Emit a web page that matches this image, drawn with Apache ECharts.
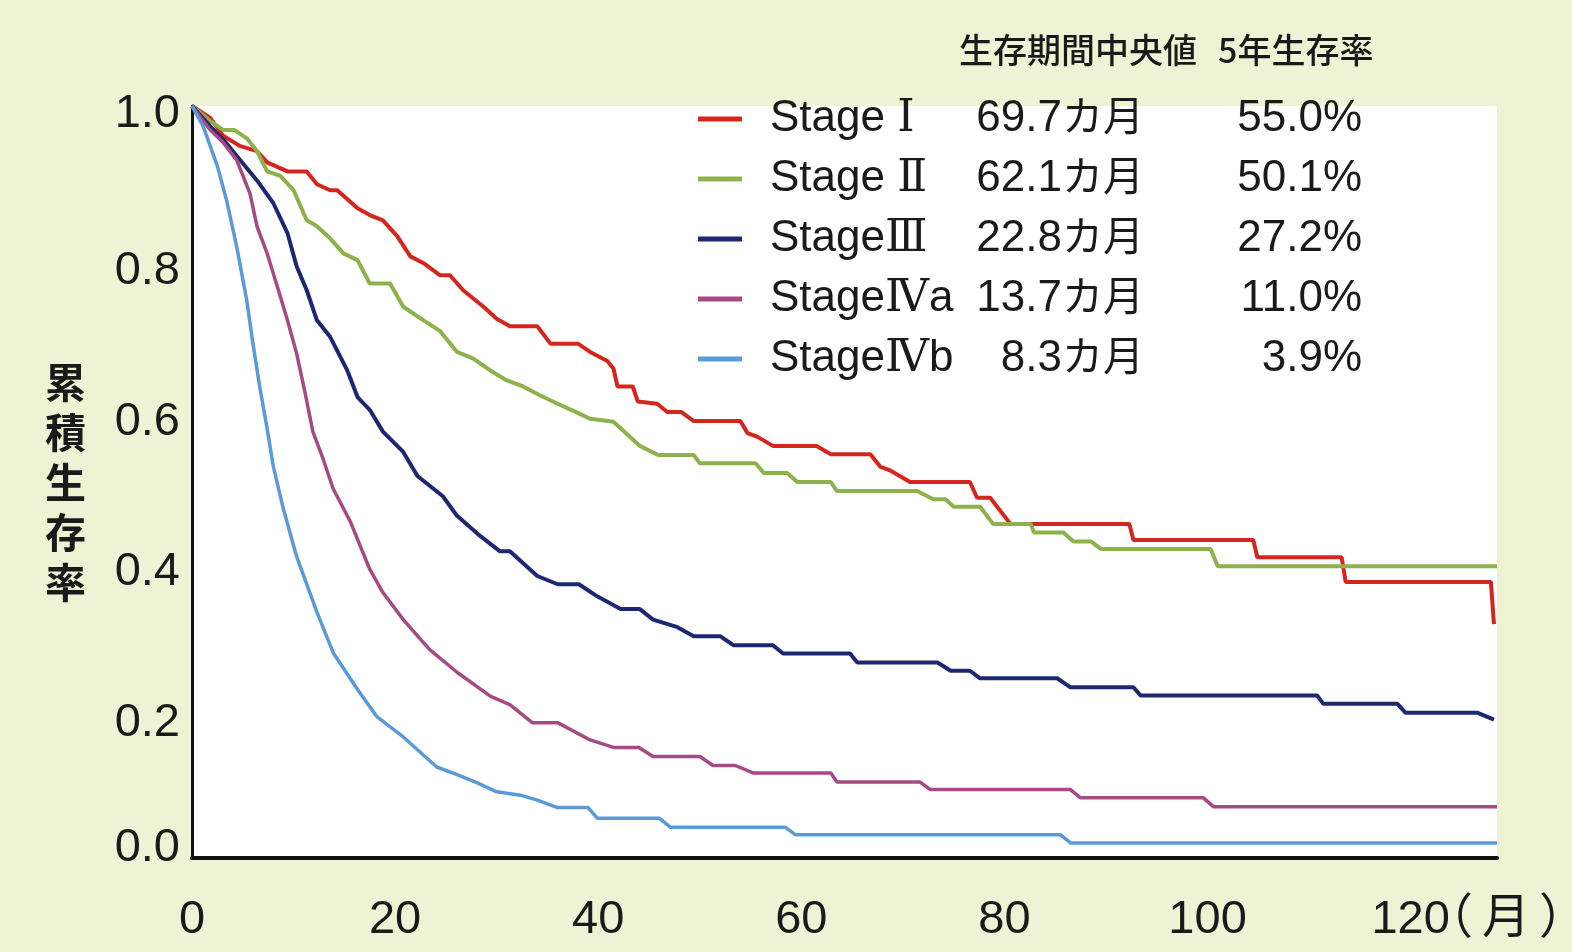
<!DOCTYPE html>
<html>
<head>
<meta charset="utf-8">
<style>
  html, body { margin: 0; padding: 0; background: #edf3d4; }
  #chart { width: 1572px; height: 952px; }
</style>
<script src="https://cdn.jsdelivr.net/npm/echarts/dist/echarts.min.js"></script>
</head>
<body>
<div id="chart"></div>
<script>
// ---- Data ----
const stageNames = ['Stage Ⅰ', 'Stage Ⅱ', 'StageⅢ', 'StageⅣa', 'StageⅣb'];
const medianValues = ['69.7', '62.1', '22.8', '13.7', '8.3'];
const medianUnit = 'カ月';
const fiveYearLabels = ['55.0%', '50.1%', '27.2%', '11.0%', '3.9%'];
const headerMedian = '生存期間中央値';
const headerFiveYear = '5年生存率';
const yAxisTitle = '累積生存率';
const xAxisUnit = '（月）';

// [month, cumulative survival]
const stageI = [[0,1],[1.8,0.984],[3.1,0.96],[4.7,0.947],[6.4,0.94],[7.4,0.925],[9.4,0.913],[11.3,0.913],[12.3,0.896],[13.6,0.888],[14.3,0.888],[16.3,0.864],[17.5,0.855],[18.8,0.848],[20.2,0.827],[21.5,0.8],[22.8,0.791],[24.4,0.775],[25.4,0.775],[26.7,0.755],[28.7,0.733],[30,0.717],[31.3,0.707],[34,0.707],[35.3,0.684],[38,0.684],[39.2,0.673],[40.9,0.661],[41.5,0.651],[41.9,0.627],[43.4,0.627],[43.9,0.607],[45.8,0.604],[46.8,0.593],[48.2,0.593],[49.4,0.581],[54,0.581],[54.7,0.565],[55.7,0.56],[57.2,0.548],[61.5,0.548],[62.9,0.537],[66.8,0.537],[67.8,0.52],[68.8,0.515],[70.7,0.5],[76.6,0.5],[77.3,0.479],[78.6,0.479],[80.6,0.444],[92.3,0.444],[92.7,0.423],[104.5,0.423],[104.9,0.4],[113.2,0.4],[113.6,0.367],[127.9,0.367],[128.2,0.311]];
const stageII = [[0,1],[1.8,0.98],[3.1,0.968],[4.2,0.968],[5.4,0.957],[6.4,0.94],[7.4,0.913],[8.7,0.907],[10,0.888],[11.3,0.848],[12.3,0.84],[13.6,0.824],[14.9,0.804],[16.3,0.795],[17.5,0.764],[19.5,0.764],[20.8,0.733],[22.8,0.715],[24.4,0.701],[26.1,0.673],[27.7,0.664],[29.4,0.648],[31,0.635],[32.6,0.627],[34.3,0.615],[36,0.604],[37.5,0.595],[39.2,0.584],[41.5,0.58],[44.1,0.548],[45.9,0.536],[49.4,0.536],[50,0.525],[55.5,0.525],[56.3,0.512],[58.6,0.512],[59.6,0.5],[62.9,0.5],[63.5,0.488],[71.4,0.488],[73,0.477],[74.2,0.477],[75,0.467],[77.6,0.467],[78.9,0.444],[82.6,0.444],[82.9,0.433],[85.8,0.433],[86.8,0.421],[88.5,0.421],[89.5,0.411],[100.3,0.411],[101,0.388],[128.5,0.388]];
const stageIII = [[0,1],[1.8,0.973],[3.1,0.955],[5,0.924],[6.4,0.901],[8,0.871],[9.4,0.831],[10.3,0.787],[11.3,0.755],[12.3,0.715],[13.6,0.693],[15.3,0.648],[16.3,0.613],[17.5,0.596],[18.8,0.567],[20.8,0.54],[22.2,0.508],[24.7,0.481],[26.1,0.455],[28.4,0.428],[30.3,0.408],[31.3,0.408],[34,0.375],[36,0.364],[38.1,0.364],[39.9,0.348],[42.2,0.331],[44.1,0.331],[45.4,0.317],[47.8,0.307],[49.4,0.295],[52,0.295],[53.3,0.283],[57.2,0.283],[58.2,0.272],[64.8,0.272],[65.5,0.26],[73.4,0.26],[74.7,0.249],[76.6,0.249],[77.6,0.239],[85.2,0.239],[86.5,0.227],[92.7,0.227],[93.4,0.216],[110.8,0.216],[111.4,0.205],[118.7,0.205],[119.5,0.193],[126.6,0.193],[128.2,0.184]];
const stageIVa = [[0,1],[1.8,0.968],[3.1,0.951],[4.4,0.928],[5.7,0.884],[6.4,0.84],[7.4,0.804],[8.4,0.76],[9.4,0.715],[10.3,0.671],[11.1,0.621],[11.9,0.567],[12.9,0.531],[13.9,0.491],[15.6,0.447],[17.5,0.384],[18.8,0.353],[20.8,0.317],[23.4,0.277],[26.1,0.247],[29.4,0.215],[31.3,0.204],[33.5,0.18],[36,0.18],[39.2,0.157],[41.5,0.147],[44,0.147],[45.4,0.135],[50,0.135],[51.3,0.123],[53.5,0.123],[55.3,0.113],[62.9,0.113],[63.5,0.101],[71.7,0.101],[72.7,0.091],[86.5,0.091],[87.5,0.08],[99.6,0.08],[100.6,0.068],[128.5,0.068]];
const stageIVb = [[0,1],[1.1,0.973],[2.5,0.92],[3.4,0.875],[4.4,0.813],[5.4,0.741],[6,0.684],[6.7,0.624],[7.4,0.571],[8,0.521],[9,0.464],[10.3,0.401],[12.3,0.327],[13.9,0.273],[16.3,0.224],[18.2,0.188],[20.8,0.161],[24.1,0.121],[26.1,0.111],[28.1,0.1],[30,0.088],[32.5,0.083],[34,0.077],[36,0.067],[39,0.067],[39.9,0.053],[46,0.053],[47.1,0.041],[58.4,0.041],[59.4,0.031],[85.5,0.031],[86.5,0.02],[128.5,0.02]];

const seriesData = [stageI, stageII, stageIII, stageIVa, stageIVb];
const seriesColors = ['#d5261d', '#8db14b', '#1e2872', '#a54a82', '#5a9ad8'];
const seriesWidths = [4, 4, 4, 3.5, 3.5];

// ---- Chart ----
const SANS = '"Liberation Sans", Arial, "Noto Sans CJK JP", sans-serif';
const NAMEFONT = '"Liberation Sans", "DejaVu Serif", "Noto Sans CJK JP", sans-serif';
const CJK = '"Noto Sans CJK JP", "Noto Sans CJK SC", sans-serif';
const TXT = '#1a1a1a';

const chart = echarts.init(document.getElementById('chart'), null, { renderer: 'canvas' });

// small vertical nudges of the y tick labels, as printed in the reference
function yLabel(v) {
  const t = v.toFixed(1);
  if (v === 0) return '{n|' + t + '}\n{e20| }';
  if (v >= 0.999) return '{e16| }\n{n|' + t + '}';
  return '{e30| }\n{n|' + t + '}';
}

const option = {
  backgroundColor: '#edf3d4',
  animation: false,
  title: {
    text: '{a|' + headerMedian + '}{b|' + headerFiveYear + '}',
    left: 959,
    top: 30,
    padding: 0,
    textStyle: {
      rich: {
        a: { fontFamily: CJK, fontSize: 34, fontWeight: 500, color: TXT, width: 259, lineHeight: 40 },
        b: { fontFamily: CJK, fontSize: 34, fontWeight: 500, color: TXT, lineHeight: 40 }
      }
    }
  },
  legend: {
    data: stageNames,
    orient: 'vertical',
    left: 698,
    top: 95,
    padding: 0,
    itemGap: 14,
    itemWidth: 44,
    itemHeight: 5,
    icon: 'rect',
    selectedMode: false,
    formatter: function (name) {
      const i = stageNames.indexOf(name);
      return '{s| }{a|' + name + '}{b|' + medianValues[i] + '}{u|' + medianUnit + '}{c|' + fiveYearLabels[i] + '}';
    },
    textStyle: {
      rich: {
        s: { width: 23, fontSize: 44, lineHeight: 48 },
        a: { width: 200, fontFamily: NAMEFONT, fontSize: 44, lineHeight: 48, color: TXT },
        b: { width: 92, align: 'right', fontFamily: SANS, fontSize: 44, lineHeight: 48, color: TXT },
        u: { width: 82, align: 'right', fontFamily: CJK, fontSize: 41, lineHeight: 40, verticalAlign: 'top', color: TXT },
        c: { width: 218, align: 'right', fontFamily: SANS, fontSize: 44, lineHeight: 48, color: TXT }
      }
    }
  },
  grid: {
    left: 192,
    right: 75,
    top: 106,
    bottom: 94,
    show: true,
    backgroundColor: '#ffffff',
    borderWidth: 0,
    containLabel: false,
    outerBoundsMode: 'none'
  },
  xAxis: {
    type: 'value',
    min: 0,
    max: 128.5,
    interval: 20,
    axisLine: { show: true, lineStyle: { color: '#111', width: 4 } },
    axisTick: { show: false },
    splitLine: { show: false },
    axisLabel: {
      showMaxLabel: false,
      fontFamily: SANS,
      fontSize: 47,
      color: TXT,
      margin: 39
    },
    name: xAxisUnit.split('').map(function (c) { return '{c|' + c + '}'; }).join(''),
    nameLocation: 'end',
    nameGap: -72,
    nameMoveOverlap: false,
    nameTextStyle: {
      fontFamily: CJK,
      fontSize: 48,
      color: TXT,
      verticalAlign: 'top',
      lineHeight: 114,
      rich: {
        c: { width: 57, fontFamily: CJK, fontSize: 48, lineHeight: 114, color: TXT }
      }
    }
  },
  yAxis: {
    type: 'value',
    min: 0,
    max: 1,
    interval: 0.2,
    axisLine: { show: true, lineStyle: { color: '#111', width: 3 } },
    axisTick: { show: false },
    splitLine: { show: false },
    axisLabel: {
      formatter: yLabel,
      margin: 12,
      rich: {
        n: { fontFamily: SANS, fontSize: 47, lineHeight: 46, color: TXT },
        e16: { fontSize: 10, lineHeight: 16 },
        e20: { fontSize: 10, lineHeight: 20 },
        e30: { fontSize: 10, lineHeight: 30 }
      }
    },
    name: yAxisTitle.split('').join('\n'),
    nameLocation: 'middle',
    nameRotate: 0,
    nameGap: 106,
    nameTextStyle: {
      fontFamily: CJK,
      fontSize: 41,
      fontWeight: 'bold',
      lineHeight: 50,
      color: TXT
    }
  },
  series: seriesData.map(function (d, i) {
    return {
      name: stageNames[i],
      type: 'line',
      data: d,
      symbol: 'none',
      showSymbol: false,
      color: seriesColors[i],
      lineStyle: { color: seriesColors[i], width: seriesWidths[i] },
      emphasis: { disabled: true }
    };
  })
};

chart.setOption(option);
</script>
</body>
</html>
